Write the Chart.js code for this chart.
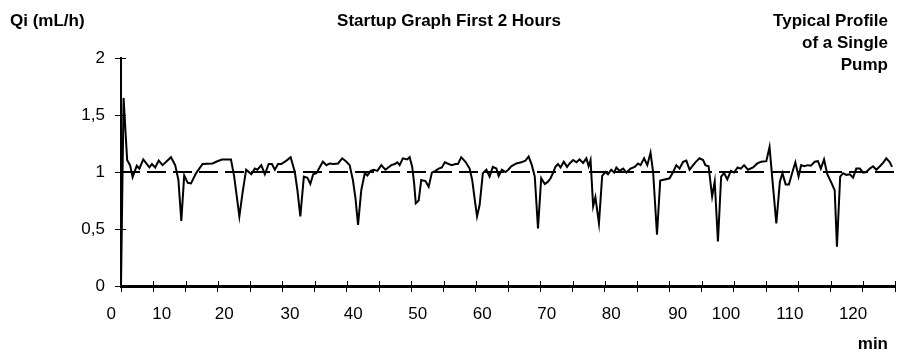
<!DOCTYPE html>
<html>
<head>
<meta charset="utf-8">
<script src="https://cdn.jsdelivr.net/npm/chart.js@4/dist/chart.umd.min.js"></script>
<style>
  html, body { margin: 0; padding: 0; background: #fff; }
  #wrap { position: relative; width: 898px; height: 359px; }
</style>
</head>
<body>
<div id="wrap"><canvas id="chart"></canvas></div>
<script>
const sampleIdx = [0, 0.8, 1.9, 2.8, 3.6, 4.9, 5.7, 6.9, 8.8, 9.6, 10.6, 11.7, 12.9, 15.5, 16.8, 17.8, 18.7, 19.6, 20.7, 21.7,
    23.3, 25.3, 28.4, 29.5, 31.3, 34.1, 35.1, 36.7, 37.7, 38.8, 39.8, 40.4, 41.5, 42.3, 43.5, 44.6, 45.8, 46.8, 47.7, 48.7,
    49.7, 51.3, 52.6, 53.9, 54.7, 55.6, 56.7, 57.8, 58.7, 59.6, 60.6, 61.4, 62.6, 63.7, 64.7, 66.0, 67.3, 68.6, 69.9, 70.9,
    71.9, 72.7, 73.5, 74.5, 75.6, 76.4, 77.4, 78.4, 79.5, 80.7, 82.0, 83.8, 84.9, 85.7, 86.4, 87.4, 88.7, 89.5, 90.3, 90.9,
    91.4, 92.3, 93.1, 94.4, 95.4, 96.4, 97.5, 98.5, 99.5, 100.4, 101.6, 102.6, 103.7, 104.5, 105.5, 106.8, 108.1, 108.9, 109.7, 110.4,
    111.2, 112.2, 113.3, 114.3, 115.3, 116.4, 117.1, 118.1, 119.2, 120.1, 121.0, 122.6, 124.1, 125.4, 126.4, 127.4, 128.3, 129.3, 130.3, 131.4,
    132.4, 133.2, 134.0, 134.7, 135.5, 136.3, 137.3, 138.3, 139.1, 140.2, 141.2, 142.2, 143.3, 144.3, 145.0, 145.6, 146.4, 147.1, 148.2, 149.2,
    150.2, 151.0, 152.0, 152.9, 153.6, 154.6, 155.7, 156.7, 158.0, 159.3, 160.3, 161.1, 162.2, 163.2, 164.2, 165.0, 166.2, 167.2, 168.6, 170.1,
    171.2, 172.2, 173.2, 174.3, 175.3, 176.3, 178.1, 179.4, 180.5, 181.2, 182.2, 183.3, 184.1, 185.1, 186.1, 187.0, 188.0, 189.1, 190.1, 191.2,
    192.2, 193.2, 194.4, 196.0, 197.3, 198.5, 200.1, 201.1, 201.9, 203.2, 204.3, 205.1, 206.1, 207.1, 208.2, 209.1, 210.1, 210.9, 211.8, 213.0,
    213.9, 215.1, 216.1, 217.0, 218.0, 219.0, 220.3, 221.3, 222.0, 223.0, 223.9, 224.9, 226.0, 227.0, 228.0, 229.1, 230.1, 231.1, 232.2, 233.2,
    234.2, 235.3, 236.3, 237.3, 238.3, 239.1];
const flowRate = [0, 1.65, 1.105, 1.06, 0.955, 1.055, 1.03, 1.11, 1.04, 1.07, 1.04, 1.10, 1.06, 1.13, 1.06, 0.93, 0.57, 0.97, 0.905, 0.90,
    0.99, 1.07, 1.075, 1.09, 1.11, 1.11, 0.96, 0.61, 0.82, 1.02, 0.995, 0.98, 1.03, 1.02, 1.06, 0.98, 1.07, 1.07, 1.02, 1.07,
    1.07, 1.10, 1.13, 1.00, 0.84, 0.61, 0.96, 0.95, 0.895, 0.98, 0.99, 1.03, 1.09, 1.06, 1.075, 1.07, 1.075, 1.12, 1.09, 1.06,
    0.93, 0.77, 0.535, 0.84, 0.99, 0.97, 1.01, 1.02, 1.01, 1.06, 1.02, 1.06, 1.07, 1.085, 1.06, 1.12, 1.11, 1.13, 1.045, 0.90,
    0.725, 0.75, 0.93, 0.92, 0.87, 0.995, 1.01, 1.03, 1.04, 1.085, 1.07, 1.06, 1.07, 1.07, 1.13, 1.09, 1.03, 0.93, 0.755, 0.61,
    0.71, 0.99, 1.02, 0.96, 1.045, 1.03, 0.965, 1.02, 1.00, 1.02, 1.05, 1.075, 1.085, 1.10, 1.135, 1.06, 0.96, 0.505, 0.945, 0.895,
    0.915, 0.945, 0.995, 1.045, 1.07, 1.04, 1.09, 1.045, 1.075, 1.105, 1.085, 1.11, 1.08, 1.12, 1.05, 1.105, 0.70, 0.78, 0.55, 0.965,
    1.00, 0.98, 1.02, 0.995, 1.04, 1.01, 1.03, 0.995, 1.03, 1.045, 1.075, 1.06, 1.12, 1.06, 1.17, 1.00, 0.45, 0.925, 0.935, 0.945,
    1.00, 1.06, 1.03, 1.09, 1.10, 1.02, 1.085, 1.12, 1.105, 1.06, 1.05, 0.785, 0.915, 0.39, 0.96, 0.99, 0.935, 1.01, 0.995, 1.04,
    1.03, 1.06, 1.02, 1.04, 1.075, 1.09, 1.095, 1.22, 0.96, 0.55, 0.915, 0.99, 0.89, 0.89, 1.00, 1.085, 0.96, 1.06, 1.05, 1.06,
    1.055, 1.09, 1.095, 1.03, 1.11, 0.98, 0.905, 0.84, 0.345, 0.96, 0.99, 0.975, 0.98, 0.95, 1.03, 1.03, 0.995, 1.00, 1.03, 1.05,
    1.02, 1.05, 1.08, 1.12, 1.09, 1.045];

const targetRate = 1;
const yTicks = [0, 0.5, 1, 1.5, 2];
// x labels sit where the original category axis put them
const xTickLabels = ['0', '10', '20', '30', '40', '50', '60', '70', '80', '90', '100', '110', '120'];
const xLabelAt = [-3, 12.6, 32, 52.4, 72, 92, 112, 132, 152, 172.6, 187.6, 207.4, 227];

const FONT = "'Liberation Sans', Arial, sans-serif";

const headerText = {
    id: 'headerText',
    afterDraw(chart) {
        const ctx = chart.ctx;
        ctx.save();
        ctx.fillStyle = '#000';
        ctx.font = 'bold 17px ' + FONT;
        ctx.textBaseline = 'middle';
        ctx.textAlign = 'left';
        ctx.fillText('Qi (mL/h)', 10, 21);
        ctx.textAlign = 'center';
        ctx.fillText('Startup Graph First 2 Hours', 449, 21);
        ctx.textAlign = 'right';
        ctx.fillText('Typical Profile', 888, 21);
        ctx.fillText('of a Single', 888, 43);
        ctx.fillText('Pump', 888, 65);
        ctx.fillText('min', 888, 344);
        ctx.restore();
    }
};

// Excel style tick marks that cross the axis line
const crossTicks = {
    id: 'crossTicks',
    afterDatasetsDraw(chart) {
        const { ctx, chartArea, scales } = chart;
        ctx.save();
        ctx.strokeStyle = '#000';
        ctx.lineWidth = 1;
        scales.y.ticks.forEach(t => {
            const py = Math.round(scales.y.getPixelForValue(t.value)) + 0.5;
            ctx.beginPath();
            ctx.moveTo(chartArea.left, py);
            ctx.lineTo(chartArea.left + 5, py);
            ctx.stroke();
        });
        scales.x.ticks.forEach(t => {
            const px = Math.round(scales.x.getPixelForValue(t.value)) + 0.5;
            ctx.beginPath();
            ctx.moveTo(px, chartArea.bottom);
            ctx.lineTo(px, chartArea.bottom - 5);
            ctx.stroke();
        });
        ctx.restore();
    }
};

const points = sampleIdx.map((s, i) => ({ x: s, y: flowRate[i] }));

new Chart(document.getElementById('chart'), {
    type: 'line',
    data: {
        datasets: [
            {
                data: points,
                borderColor: '#000',
                borderWidth: 2,
                pointRadius: 0,
                tension: 0,
                fill: false
            },
            {
                data: [{ x: 0, y: targetRate }, { x: 240, y: targetRate }],
                borderColor: '#000',
                borderWidth: 2,
                borderDash: [19, 7],
                pointRadius: 0,
                fill: false
            }
        ]
    },
    options: {
        responsive: true,
        maintainAspectRatio: false,
        animation: false,
        layout: { padding: { top: 58, right: 3, left: 0, bottom: 0 } },
        plugins: { legend: { display: false }, tooltip: { enabled: false } },
        scales: {
            x: {
                type: 'linear',
                min: 0,
                max: 240,
                position: 'bottom',
                afterBuildTicks: s => { s.ticks = []; for (let v = 0; v <= 240; v += 10) s.ticks.push({ value: v }); },
                afterFit: s => { s.height = 6; },
                border: { display: true, color: '#000', width: 3 },
                grid: { display: true, drawOnChartArea: false, drawTicks: true, tickLength: 6, color: '#000' },
                ticks: { display: false }
            },
            x2: {
                type: 'linear',
                min: 0,
                max: 240,
                position: 'bottom',
                afterBuildTicks: s => { s.ticks = xLabelAt.map(v => ({ value: v })); },
                afterFit: s => { s.height = 67; },
                border: { display: false },
                grid: { display: false },
                ticks: {
                    autoSkip: false,
                    maxRotation: 0,
                    padding: 4,
                    color: '#000',
                    font: { family: FONT, size: 17 },
                    callback: (v, i) => xTickLabels[i]
                }
            },
            y: {
                min: 0,
                max: 2,
                afterBuildTicks: s => { s.ticks = yTicks.map(v => ({ value: v })); },
                afterFit: s => { s.width = 121; },
                border: { display: true, color: '#000', width: 2 },
                grid: { display: true, drawOnChartArea: false, drawTicks: true, tickLength: 6, color: '#000' },
                ticks: {
                    padding: 10,
                    color: '#000',
                    font: { family: FONT, size: 17 },
                    callback: v => String(v).replace('.', ',')
                }
            }
        }
    },
    plugins: [headerText, crossTicks]
});
</script>
</body>
</html>
